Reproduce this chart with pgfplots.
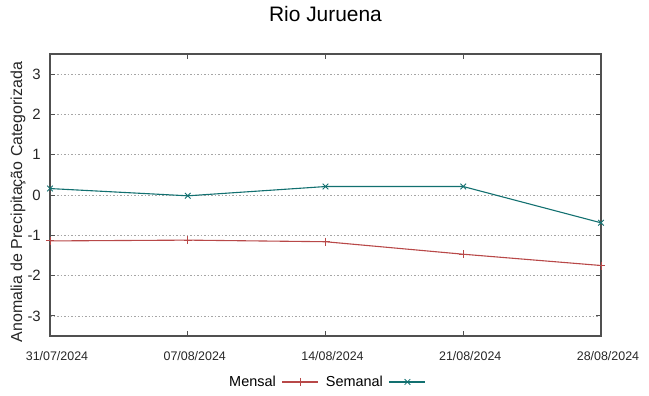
\documentclass[border=0pt]{standalone}
\usepackage{fontspec}
\setmainfont{Liberation Sans}
\usepackage{pgfplots}
\pgfplotsset{compat=1.18}
\definecolor{mensal}{RGB}{184,72,72}
\definecolor{semanal}{RGB}{18,112,112}
\definecolor{axisgray}{RGB}{80,80,80}
\begin{document}
\begin{tikzpicture}
\useasboundingbox (0,0) rectangle (649bp,396bp);
\begin{axis}[
  at={(50bp,60bp)}, anchor=south west,
  scale only axis, width=551bp, height=282bp,
  xmin=0, xmax=4, ymin=-3.5, ymax=3.5,
  xtick={0,1,2,3,4},
  xticklabels={31/07/2024,07/08/2024,14/08/2024,21/08/2024,28/08/2024},
  ytick={-3,-2,-1,0,1,2,3},
  tick align=inside,
  major tick length=5bp,
  tick style={axisgray, line width=0.8bp},
  axis line style={axisgray, line width=1.2bp},
  ymajorgrids,
  grid style={dash pattern=on 1.5bp off 2bp, line width=0.7bp, color=gray!70},
  /pgf/number format/assume math mode=true,
  xticklabel style={font=\fontsize{12.5}{14}\selectfont, anchor=center, yshift=-20.5bp, xshift=7bp, color=black!85},
  yticklabel style={font=\fontsize{15}{17}\selectfont, anchor=east, inner sep=0pt, xshift=-9bp, color=black!85},
  title={Rio Juruena},
  title style={font=\fontsize{21}{24}\selectfont, at={(0.5,1)}, anchor=center, yshift=34bp},
  ylabel={Anomalia de Precipitação Categorizada},
  ylabel style={font=\fontsize{16}{18}\selectfont, at={(axis description cs:-0.058,0.475)}, anchor=center, color=black!85},
  legend columns=2,
  legend plot pos=right,
  legend style={draw=none, fill=none, at={(axis description cs:0.502,-0.163)}, anchor=center,
    font=\fontsize{14.5}{17}\selectfont, column sep=4bp, inner sep=0pt,
    /tikz/every even column/.append style={column sep=5bp}},
  legend image code/.code={\draw[mark repeat=2,mark phase=2] plot coordinates {(0bp,0bp) (18bp,0bp) (36bp,0bp)};},
]
\addplot[color=mensal, line width=1.1bp, mark=+, mark size=4bp, mark options={line width=0.9bp}]
  coordinates {(0,-1.14) (1,-1.12) (2,-1.16) (3,-1.47) (4,-1.75)};
\addlegendentry{Mensal}
\addplot[color=semanal, line width=1.1bp, mark=x, mark size=4bp, mark options={line width=0.8bp}]
  coordinates {(0,0.16) (1,-0.02) (2,0.21) (3,0.21) (4,-0.69)};
\addlegendentry{Semanal}
\end{axis}
\end{tikzpicture}
\end{document}
